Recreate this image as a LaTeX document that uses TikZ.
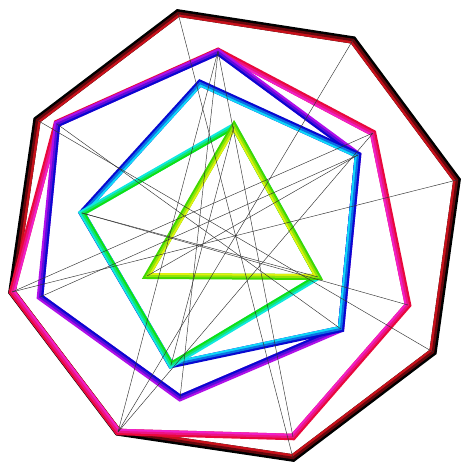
\documentclass[tikz,border=0pt]{standalone}
\begin{document}
\begin{tikzpicture}[x=1pt,y=-1pt,line join=miter,
  thinline/.style={black!80,line width=0.45pt}]
\useasboundingbox[fill=white] (0,0) rectangle (470,470);
\definecolor{cBlack}{HTML}{000000}
\definecolor{cRed}{HTML}{C8101A}
\definecolor{cCrim}{HTML}{E8083C}
\definecolor{cMag}{HTML}{F020C8}
\definecolor{cPurp}{HTML}{B010E8}
\definecolor{cBlue}{HTML}{0808D0}
\definecolor{cCyan}{HTML}{10D8F8}
\definecolor{cAqua}{HTML}{10E8E0}
\definecolor{cGreen}{HTML}{10E010}
\definecolor{cLime}{HTML}{40D800}
\definecolor{cYel}{HTML}{E0F010}
% vertices
\coordinate (O0) at (178,13);  \coordinate (O1) at (353,40);
\coordinate (O2) at (457,180); \coordinate (O3) at (433,352);
\coordinate (O4) at (293,458); \coordinate (O5) at (118,432);
\coordinate (O6) at (12,292);  \coordinate (O7) at (37,120);
\coordinate (H0) at (218,51);  \coordinate (H1) at (373,133);
\coordinate (H2) at (408,305); \coordinate (H3) at (293,437);
\coordinate (H4) at (118,432); \coordinate (H5) at (12,292);
\coordinate (H6) at (57,123);
\coordinate (X0) at (218,52);  \coordinate (X1) at (358,155);
\coordinate (X2) at (341,329); \coordinate (X3) at (180,398);
\coordinate (X4) at (40,297);  \coordinate (X5) at (57,124);
\coordinate (P0) at (200,83);  \coordinate (P1) at (358,155);
\coordinate (P2) at (341,329); \coordinate (P3) at (171,365);
\coordinate (P4) at (82,213);
\coordinate (S0) at (234,126); \coordinate (S1) at (318,277);
\coordinate (S2) at (171,365); \coordinate (S3) at (82,213);
\coordinate (T0) at (234,126); \coordinate (T1) at (318,277);
\coordinate (T2) at (147,276);
\newcommand{\duopoly}[4]{%
  \draw[#1,line width=#3] #4;
  \begin{scope}\clip #4; \draw[#2,line width=#3] #4; \end{scope}
  \draw[#1!50!#2,line width=#3/3] #4;}
\duopoly{cBlack}{cRed}{7.5pt}{(O0)--(O1)--(O2)--(O3)--(O4)--(O5)--(O6)--(O7)--cycle}
\duopoly{cCrim}{cMag}{6.5pt}{(H0)--(H1)--(H2)--(H3)--(H4)--(H5)--(H6)--cycle}
\duopoly{cPurp}{cBlue}{6.5pt}{(X0)--(X1)--(X2)--(X3)--(X4)--(X5)--cycle}
\duopoly{cBlue}{cCyan}{6.5pt}{(P0)--(P1)--(P2)--(P3)--(P4)--cycle}
\duopoly{cAqua}{cGreen}{6pt}{(S0)--(S1)--(S2)--(S3)--cycle}
\duopoly{cLime}{cYel}{6pt}{(T0)--(T1)--(T2)--cycle}
% thin lines
\draw[thinline] (O0)--(O4) (O1)--(O5) (O2)--(O6) (O3)--(O7);
\draw[thinline] (X0)--(X3) (X1)--(X4) (X2)--(X5);
\draw[thinline] (S0)--(S2) (S1)--(S3);
\draw[thinline] (H0)--(H3) (H1)--(H4) (H1)--(H5) (H0)--(H4);
\draw[thinline] (P4)--(H2) (X1)--(T2);
\end{tikzpicture}
\end{document}
